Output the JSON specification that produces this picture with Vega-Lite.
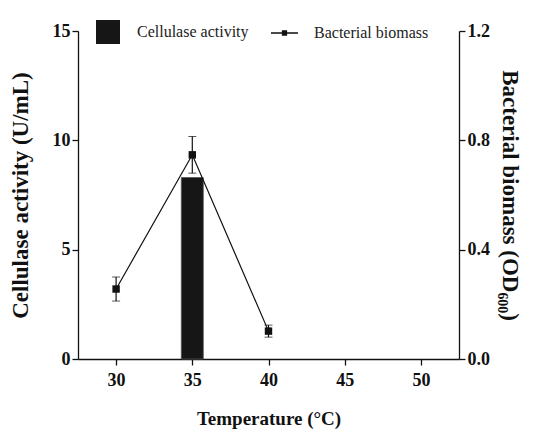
{
  "$schema": "https://vega.github.io/schema/vega-lite/v6.json",
  "width": 381,
  "height": 328,
  "autosize": {"type": "none"},
  "padding": {"left": 78, "top": 31, "right": 75, "bottom": 82},
  "background": "white",
  "config": {
    "view": {"stroke": null},
    "font": "Liberation Serif",
    "axis": {
      "labelFont": "Liberation Serif",
      "labelFontWeight": "bold",
      "labelFontSize": 18,
      "labelColor": "#111",
      "titleFont": "Liberation Serif",
      "titleFontWeight": "bold",
      "titleFontSize": 19,
      "titleColor": "#111",
      "domainColor": "#111",
      "domainWidth": 1.3,
      "tickColor": "#111",
      "tickWidth": 1.3,
      "tickSize": 6,
      "grid": false
    },
    "legend": {
      "labelFont": "Liberation Serif",
      "labelFontSize": 16,
      "labelColor": "#222",
      "title": null,
      "padding": 0
    }
  },
  "data": {
    "values": [
      {"temp": 30, "cellulase": null, "biomass": 0.256, "err": 0.044, "s1": "Cellulase activity", "s2": "Bacterial biomass"},
      {"temp": 35, "cellulase": 8.3, "biomass": 0.747, "err": 0.067, "s1": "Cellulase activity", "s2": "Bacterial biomass"},
      {"temp": 40, "cellulase": null, "biomass": 0.102, "err": 0.022, "s1": "Cellulase activity", "s2": "Bacterial biomass"}
    ]
  },
  "encoding": {
    "x": {
      "field": "temp",
      "type": "quantitative",
      "scale": {"domain": [27.5, 52.5], "nice": false, "zero": false, "padding": 0},
      "axis": {"values": [30, 35, 40, 45, 50], "title": "Temperature (°C)", "titlePadding": 20, "labelPadding": 6}
    }
  },
  "layer": [
    {
      "mark": {"type": "bar", "width": 22, "color": "#161616", "stroke": "#555", "strokeWidth": 0.8},
      "encoding": {
        "y": {
          "field": "cellulase",
          "type": "quantitative",
          "scale": {"domain": [0, 15], "nice": false},
          "axis": {"values": [0, 5, 10, 15], "title": "Cellulase activity (U/mL)", "orient": "left", "titlePadding": 20, "titleFontSize": 23}
        },
        "fill": {
          "field": "s1",
          "type": "nominal",
          "scale": {"range": ["#161616"]},
          "legend": {"orient": "none", "legendX": 18, "legendY": -11, "symbolType": "square", "symbolSize": 576, "labelOffset": 17, "symbolStrokeWidth": 0}
        }
      }
    },
    {
      "encoding": {
        "y": {
          "field": "biomass",
          "type": "quantitative",
          "scale": {"domain": [0, 1.2], "nice": false},
          "axis": {"values": [0, 0.4, 0.8, 1.2], "format": ".1f", "title": "Bacterial biomass (OD₆₀₀)", "orient": "right", "titleAngle": 90, "titlePadding": 8, "titleFontSize": 23}
        }
      },
      "layer": [
        {
          "mark": {"type": "errorbar", "ticks": {"size": 8, "color": "#111", "strokeWidth": 1.2}, "rule": {"color": "#111", "strokeWidth": 1.2}},
          "encoding": {"yError": {"field": "err"}}
        },
        {
          "mark": {"type": "line", "color": "#111", "strokeWidth": 1.2},
          "encoding": {
            "stroke": {
              "field": "s2",
              "type": "nominal",
              "scale": {"range": ["#111"]},
              "legend": {"orient": "none", "legendX": 192, "legendY": -12.5, "symbolType": "M-1,0H1M-0.14,-0.14H0.14V0.14H-0.14Z", "symbolSize": 729, "symbolStrokeWidth": 1.5, "symbolFillColor": "#111", "labelOffset": 15}
            }
          }
        },
        {
          "mark": {"type": "point", "shape": "square", "filled": true, "size": 55, "color": "#111", "opacity": 1}
        }
      ]
    }
  ],
  "resolve": {"scale": {"y": "independent", "fill": "independent", "stroke": "independent"}}
}
